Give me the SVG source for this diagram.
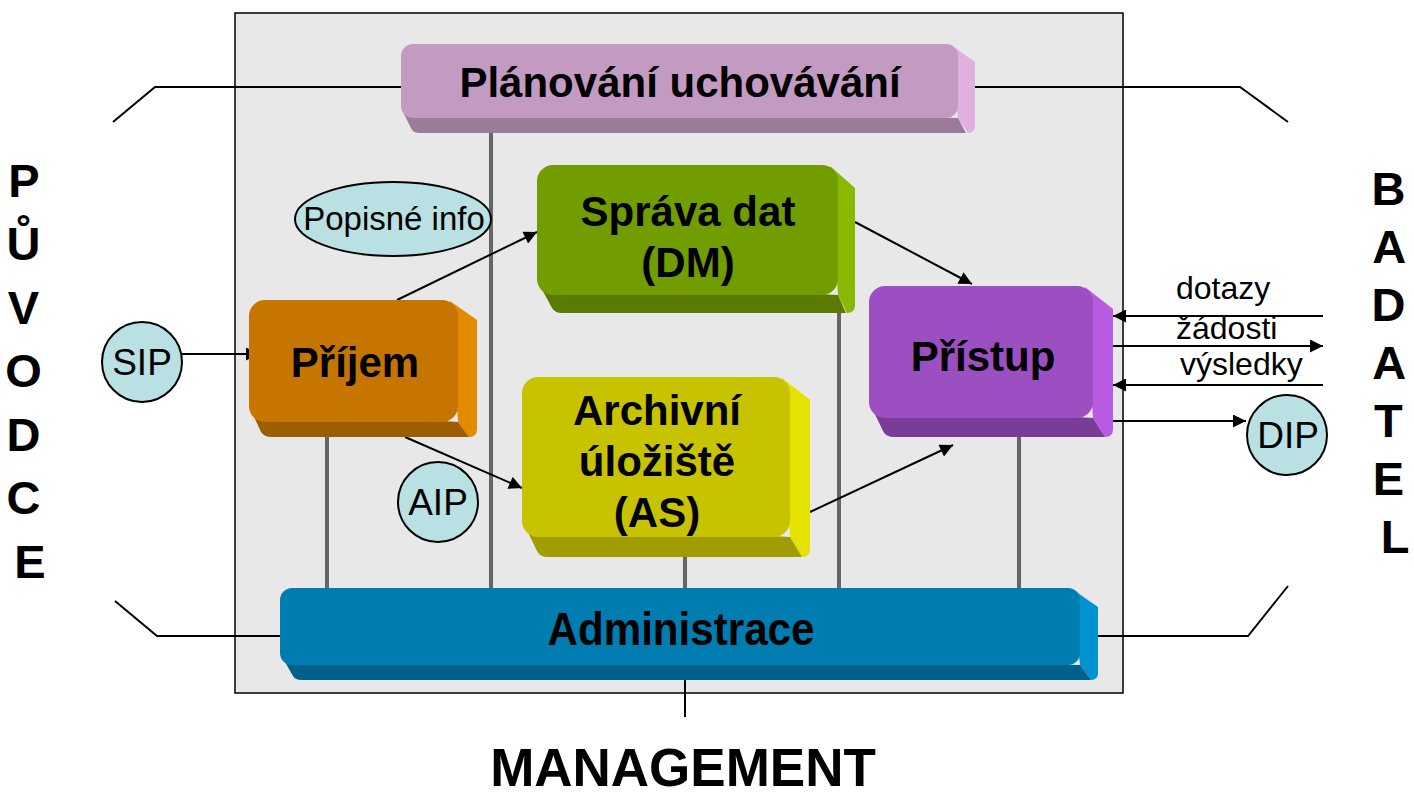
<svg xmlns="http://www.w3.org/2000/svg" width="1414" height="795" viewBox="0 0 1414 795">
<defs>
<style>
.lbl{font-family:"Liberation Sans",Arial,sans-serif;font-weight:bold;font-size:42px;fill:#000;text-anchor:middle}
.sm{font-family:"Liberation Sans",Arial,sans-serif;font-size:32px;fill:#000}
.cir{fill:#b9e0e3;stroke:#000;stroke-width:2}
.ctx{font-family:"Liberation Sans",Arial,sans-serif;font-size:37px;fill:#000;text-anchor:middle}
.big{font-family:"Liberation Sans",Arial,sans-serif;font-weight:bold;font-size:47px;fill:#000;text-anchor:middle}
.ln{stroke:#000;stroke-width:2;fill:none}
.arr{stroke:#000;stroke-width:2;fill:none;marker-end:url(#ah)}
.gr{stroke:#666;stroke-width:4;fill:none}
</style>
<marker id="ah" viewBox="0 0 10 10" refX="10" refY="5" markerWidth="15" markerHeight="13" markerUnits="userSpaceOnUse" orient="auto">
<path d="M0,0 L10,5 L0,10 Z" fill="#000"/>
</marker>
</defs>
<rect x="0" y="0" width="1414" height="795" fill="#fff"/>
<rect x="235" y="13" width="888" height="680" fill="#e8e8e8" stroke="#000" stroke-width="1.5"/>

<g id="outer-lines">
<polyline class="ln" points="113,122 155,87 401,87"/>
<polyline class="ln" points="975,87 1240,87 1288,122"/>
<polyline class="ln" points="115,601 157,636 280,636"/>
<polyline class="ln" points="1098,636 1248,636 1288,586"/>
</g>

<g id="connectors">
<line class="gr" x1="327" y1="437" x2="327" y2="590"/>
<line class="gr" x1="491" y1="133" x2="491" y2="590"/>
<line class="gr" x1="685" y1="557" x2="685" y2="590"/>
<line class="gr" x1="839" y1="313" x2="839" y2="590"/>
<line class="gr" x1="1019" y1="437" x2="1019" y2="590"/>
<line class="ln" x1="685" y1="680" x2="685" y2="717"/>
<line class="arr" x1="182" y1="354" x2="259" y2="354"/>
<line class="arr" x1="397" y1="300" x2="537" y2="232"/>
<line class="arr" x1="405" y1="437" x2="522" y2="488"/>
<line class="arr" x1="855" y1="222" x2="972" y2="284"/>
<line class="arr" x1="810" y1="512" x2="953" y2="445"/>
<line class="arr" x1="1323" y1="316" x2="1113" y2="316"/>
<line class="arr" x1="1113" y1="346" x2="1323" y2="346"/>
<line class="arr" x1="1323" y1="385" x2="1113" y2="385"/>
<line class="arr" x1="1113" y1="421" x2="1246" y2="421"/>
</g>

<g id="planovani">
<path d="M951,45 L975,62 L975,126 Q975,133 968,133 L958,118 Z" fill="#e0b0e0"/>
<path d="M402,110 L412,130 Q414,133 420,133 L966,133 L958,118 Z" fill="#9c7b9a"/>
<rect x="401" y="44" width="557" height="74" rx="12" fill="#c39bc2"/>
<text class="lbl" x="680" y="97">Plánování uchovávání</text>
</g>

<g id="sprava">
<path d="M830,166 L855,188 L855,305 Q855,313 847,313 L838,295 Z" fill="#8ab700"/>
<path d="M538,282 L552,308 Q555,313 562,313 L846,313 L838,295 Z" fill="#5a7a00"/>
<rect x="537" y="165" width="301" height="130" rx="16" fill="#729d00"/>
<text class="lbl" x="688" y="226">Správa dat</text>
<text class="lbl" x="688" y="277">(DM)</text>
</g>

<g id="prijem">
<path d="M450,301 L477,320 L477,429 Q477,437 469,437 L458,422 Z" fill="#e38a00"/>
<path d="M250,408 L261,432 Q264,437 272,437 L469,437 L458,422 Z" fill="#9c5e00"/>
<rect x="249" y="300" width="209" height="122" rx="16" fill="#c67600"/>
<text class="lbl" x="355" y="377">Příjem</text>
</g>

<g id="archiv">
<path d="M782,378 L810,400 L810,549 Q810,557 802,557 L790,537 Z" fill="#e5e100"/>
<path d="M523,522 L537,551 Q540,557 548,557 L802,557 L790,537 Z" fill="#a19c00"/>
<rect x="522" y="377" width="268" height="160" rx="16" fill="#c8c300"/>
<text class="lbl" x="657" y="425">Archivní</text>
<text class="lbl" x="657" y="476">úložiště</text>
<text class="lbl" x="657" y="527">(AS)</text>
</g>

<g id="pristup">
<path d="M1085,287 L1113,309 L1113,429 Q1113,437 1105,437 L1093,418 Z" fill="#b65be2"/>
<path d="M870,404 L883,431 Q886,437 894,437 L1105,437 L1093,418 Z" fill="#7a3c99"/>
<rect x="869" y="286" width="224" height="132" rx="16" fill="#9b4fc1"/>
<text class="lbl" x="983" y="371">Přístup</text>
</g>

<g id="administrace">
<path d="M1072,589 L1098,607 L1098,673 Q1098,680 1091,680 L1080,665 Z" fill="#0092d0"/>
<path d="M281,655 L293,676 Q295,680 302,680 L1091,680 L1080,665 Z" fill="#00608a"/>
<rect x="280" y="588" width="800" height="77" rx="12" fill="#007db0"/>
<text class="lbl" x="681" y="645" style="font-size:47px" textLength="267" lengthAdjust="spacingAndGlyphs">Administrace</text>
</g>

<g id="popisne-info">
<ellipse class="cir" cx="393" cy="219" rx="98" ry="37"/>
<text class="ctx" x="394" y="230" style="font-size:33px">Popisné info</text>
</g>

<g id="sip">
<circle class="cir" cx="142" cy="362" r="40"/>
<text class="ctx" x="142" y="375">SIP</text>
</g>

<g id="aip">
<circle class="cir" cx="438" cy="502" r="40"/>
<text class="ctx" x="438" y="515">AIP</text>
</g>

<g id="dip">
<circle class="cir" cx="1287" cy="435" r="40"/>
<text class="ctx" x="1288" y="448">DIP</text>
</g>

<g id="labels">
<text class="sm" x="1176" y="299">dotazy</text>
<text class="sm" x="1176" y="339">žádosti</text>
<text class="sm" x="1180" y="375">výsledky</text>
</g>

<g id="puvodce">
<text class="big">
<tspan x="30" y="197">P</tspan>
<tspan x="30" y="260">Ů</tspan>
<tspan x="30" y="324">V</tspan>
<tspan x="30" y="387">O</tspan>
<tspan x="30" y="451">D</tspan>
<tspan x="30" y="514">C</tspan>
<tspan x="30" y="578">E</tspan>
</text>
</g>

<g id="badatel">
<text class="big">
<tspan x="1395" y="205">B</tspan>
<tspan x="1395" y="263">A</tspan>
<tspan x="1395" y="321">D</tspan>
<tspan x="1395" y="379">A</tspan>
<tspan x="1395" y="437">T</tspan>
<tspan x="1395" y="495">E</tspan>
<tspan x="1395" y="553">L</tspan>
</text>
</g>

<g id="management">
<text class="big" x="683" y="786" style="font-size:53px">MANAGEMENT</text>
</g>
</svg>
